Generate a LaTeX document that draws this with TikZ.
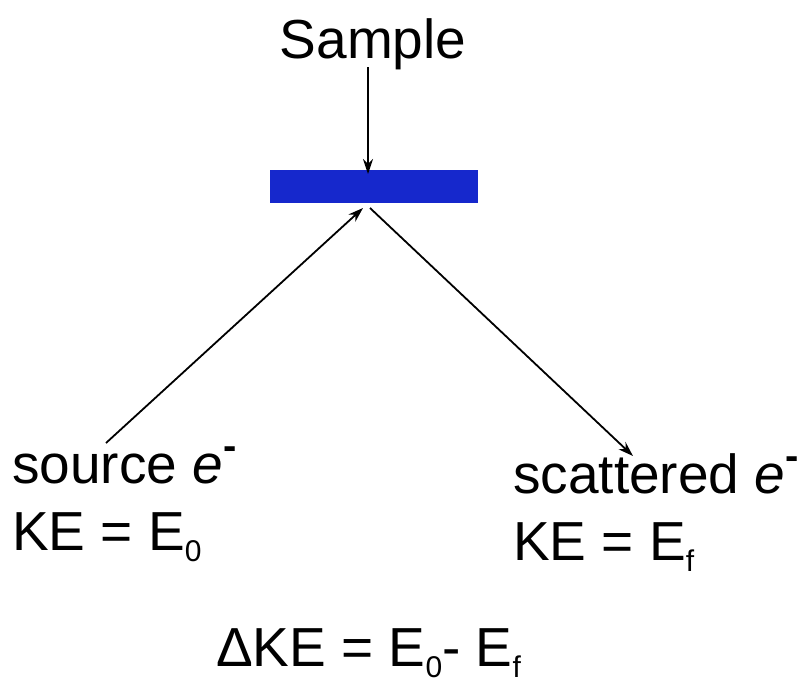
\documentclass[tikz,border=0pt]{standalone}
\usepackage{fontspec}
\setmainfont{Liberation Sans}
\usetikzlibrary{arrows.meta}
\definecolor{barblue}{RGB}{22,40,204}
\newcommand\subx[1]{\raisebox{-0.2em}{\fontsize{30}{30}\selectfont #1}}
\newcommand\supm{\raisebox{0.42em}{\fontsize{40}{40}\selectfont\bfseries -}}
\begin{document}
\begin{tikzpicture}[x=1pt,y=-1pt,
  lbl/.style={inner sep=0pt,font=\fontsize{55}{55}\selectfont},
  arr/.style={line width=1.8pt,-{Stealth[length=15pt,width=10pt]}}]
\useasboundingbox (0,0) rectangle (809,683);
\node[lbl,anchor=base] (sample) at (373,58) {Sample};
\node[fill=barblue,draw=none,minimum width=208pt,minimum height=33pt,inner sep=0pt,anchor=north west] (bar) at (270,170) {};
\coordinate (topin) at (368,67);
\coordinate (topend) at (368,174);
\coordinate (lstart) at (106,443);
\coordinate (lend) at (363,208);
\coordinate (rstart) at (370,208);
\coordinate (rend) at (633,456);
\draw[arr] (topin) -- (topend);
\draw[arr] (lstart) -- (lend);
\draw[arr] (rstart) -- (rend);
\node[lbl,anchor=base west] (src) at (12,483) {source \textit{e}\supm};
\node[lbl,anchor=base west] (srcke) at (12,550) {KE = E\subx{0}};
\node[lbl,anchor=base west] (sct) at (513,493) {scattered \textit{e}\supm};
\node[lbl,anchor=base west] (sctke) at (513,560) {KE = E\subx{f}};
\node[lbl,anchor=base west] (dke) at (216,666) {ΔKE = E\subx{0}- E\subx{f}};
\end{tikzpicture}
\end{document}
